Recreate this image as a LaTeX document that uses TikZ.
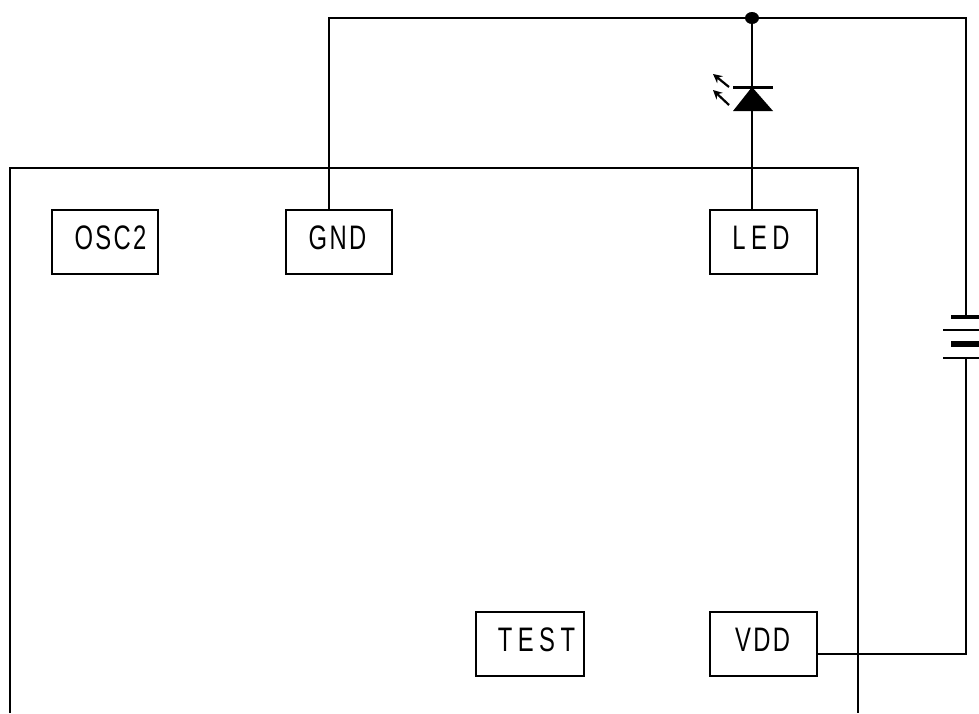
\documentclass[tikz,border=0pt]{standalone}
\usepackage{fontspec}
\setmainfont[FakeStretch=0.7,LetterSpace=7]{Liberation Sans}
\usetikzlibrary{positioning}
\usetikzlibrary{arrows.meta}
\tikzset{x=1pt,y=-1pt,
      wire/.style={line width=1.7pt}, % Connections between the pins
      pin box/.style={ % Sets the properties for each pin
      draw,
      line width=1.5pt,
      outer sep=0pt,
      inner sep=0pt,
      minimum width=106pt,
      minimum height=64pt,
      font=\fontsize{34}{34}\selectfont,
      text height=24pt,
      text depth=10pt},
      wide text/.style={font=\fontsize{34}{34}\selectfont\addfontfeature{LetterSpace=16}},
      thin plate/.style={line width=1.7pt},
      thick plate/.style={line width=4pt},
      light ray/.style={line width=2.2pt,-{Stealth[length=9pt,width=9pt]}}}

\begin{document}
\begin{tikzpicture}
      \useasboundingbox (0,0) rectangle (979,713);
      \draw[wire] (10,713) -- (10,168) -- (858,168) -- (858,713);
      % pins
      \node[pin box, anchor=north west] (osc2) at (52,210) {\hspace*{11pt}OSC2};
      \node[pin box, right=128pt of osc2] (gnd) {\hspace*{-3pt}GND};
      \node[pin box, wide text, right=318pt of gnd, minimum width=107pt] (led) {\hspace*{-5pt}LED};
      \node[pin box, below=338pt of led, minimum width=107pt] (vdd) {\hspace*{-2pt}VDD};
      \node[pin box, wide text, left=126pt of vdd, minimum width=108pt] (test) {\hspace*{13pt}TEST};
      \coordinate (oscmark) at (73,210);
      \draw[line width=2.6pt] (oscmark) -- ++(22,0);
      % wires
      \coordinate (gndtop) at (329,18);
      \coordinate (join) at (752,18);
      \coordinate (battop) at (966,18);
      \coordinate (batcorner) at (966,654);
      \coordinate (plate1) at (966,317);
      \coordinate (plate2) at (966,330);
      \coordinate (plate3) at (966,344);
      \coordinate (plate4) at (966,358);
      \coordinate (cathode) at (752,87);
      \draw[wire] (gndtop |- gnd.north) -- (gndtop) -- (battop) -- (plate1);
      \draw[wire] (join) -- (cathode);
      \draw[wire] (cathode) -- (cathode |- led.north);
      \draw[wire] (batcorner -| vdd.east) -- (batcorner) -- (plate4);
      \fill (join) ellipse (7 and 6);
      % LED symbol
      \fill (cathode) -- (733,111) -- (773,111) -- cycle;
      \draw[line width=3pt] (733,87) -- (773,87);
      \coordinate (ray1) at (729,87);
      \coordinate (ray2) at (729,105);
      \draw[light ray] (ray1) -- (713,74);
      \draw[light ray] (ray2) -- (713,90);
      % battery
      \draw[thick plate] (951,317) -- (979,317);
      \draw[thin plate] (943,330) -- (979,330);
      \draw[thick plate, line width=6pt] (951,344) -- (979,344);
      \draw[thin plate] (943,358) -- (979,358);
    \end{tikzpicture}
\end{document}
